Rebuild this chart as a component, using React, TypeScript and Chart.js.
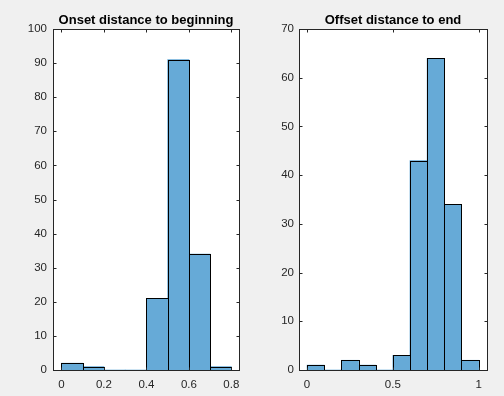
import React, { useEffect, useRef } from "react";
import { Chart, registerables } from "chart.js";

Chart.register(...registerables);

// ---- Data ----
const leftTitle = "Onset distance to beginning";
const leftBinCenters = [0.05, 0.15, 0.25, 0.35, 0.45, 0.55, 0.65, 0.75];
const leftCounts = [2, 1, 0, 0, 21, 91, 34, 1];
const leftXTicks = [0, 0.2, 0.4, 0.6, 0.8];
const leftYTicks = [0, 10, 20, 30, 40, 50, 60, 70, 80, 90, 100];

const rightTitle = "Offset distance to end";
const rightBinCenters = [0.05, 0.15, 0.25, 0.35, 0.45, 0.55, 0.65, 0.75, 0.85, 0.95];
const rightCounts = [1, 0, 2, 1, 0, 3, 43, 64, 34, 2];
const rightXTicks = [0, 0.5, 1];
const rightYTicks = [0, 10, 20, 30, 40, 50, 60, 70];

const FONT = '"Liberation Sans", Arial, Helvetica, sans-serif';
const BAR_FILL = "rgb(102,170,215)";
const AXIS_COLOR = "#262626";

type PanelProps = {
  title: string;
  centers: number[];
  counts: number[];
  xTicks: number[];
  yTicks: number[];
  xMin: number;
  xMax: number;
  yMax: number;
  left: number;
  padLeft: number;
  padRight: number;
  yAxisWidth: number;
  yLabelPad: number;
};

function Panel(p: PanelProps) {
  const ref = useRef<HTMLCanvasElement | null>(null);
  useEffect(() => {
    const canvas = ref.current;
    if (!canvas) return;
    const matlabPlugin = {
      id: "matlabAxes",
      beforeDraw(chart: any) {
        const { ctx, chartArea } = chart;
        ctx.save();
        ctx.fillStyle = "#ffffff";
        ctx.fillRect(chartArea.left, chartArea.top, chartArea.right - chartArea.left, chartArea.bottom - chartArea.top);
        ctx.restore();
      },
      afterDatasetsDraw(chart: any) {
        const { ctx } = chart;
        const meta = chart.getDatasetMeta(0);
        ctx.save();
        ctx.strokeStyle = "#000000";
        ctx.lineWidth = 1;
        meta.data.forEach((el: any, i: number) => {
          if (!p.counts[i]) return;
          const { x, y, base, width } = el.getProps(["x", "y", "base", "width"], true);
          const l = Math.round(x - width / 2) + 0.5;
          const r = Math.round(x + width / 2) + 0.5;
          const t = Math.round(y) + 0.5;
          const b = Math.round(base) + 0.5;
          ctx.strokeRect(l, t, r - l, b - t);
        });
        ctx.restore();
      },
      afterDraw(chart: any) {
        const { ctx, chartArea } = chart;
        const xs = chart.scales.x;
        const ys = chart.scales.y;
        const L = Math.round(chartArea.left) + 0.5;
        const R = Math.round(chartArea.right) + 0.5;
        const T = Math.round(chartArea.top) + 0.5;
        const B = Math.round(chartArea.bottom) + 0.5;
        ctx.save();
        ctx.strokeStyle = AXIS_COLOR;
        ctx.lineWidth = 1;
        ctx.strokeRect(L, T, R - L, B - T);
        const tl = 3;
        ctx.beginPath();
        p.xTicks.forEach((v) => {
          const px = Math.round(xs.getPixelForValue(v)) + 0.5;
          ctx.moveTo(px, B);
          ctx.lineTo(px, B - tl);
          ctx.moveTo(px, T);
          ctx.lineTo(px, T + tl);
        });
        p.yTicks.forEach((v) => {
          const py = Math.round(ys.getPixelForValue(v)) + 0.5;
          ctx.moveTo(L, py);
          ctx.lineTo(L + tl, py);
          ctx.moveTo(R, py);
          ctx.lineTo(R - tl, py);
        });
        ctx.stroke();
        ctx.fillStyle = "#000000";
        ctx.font = "bold 13px " + FONT;
        ctx.textAlign = "center";
        ctx.textBaseline = "alphabetic";
        ctx.fillText(p.title, (chartArea.left + chartArea.right) / 2, chartArea.top - 5);
        ctx.restore();
      },
    };

    const chart = new Chart(canvas, {
      type: "bar",
      data: {
        datasets: [
          {
            data: p.centers.map((c, i) => ({ x: c, y: p.counts[i] })),
            backgroundColor: BAR_FILL,
            borderWidth: 0,
            barPercentage: 1,
            categoryPercentage: 1,
          },
        ],
      },
      options: {
        responsive: false,
        animation: false,
        layout: { padding: { left: p.padLeft, right: p.padRight, top: 29, bottom: 6 } },
        plugins: { legend: { display: false }, tooltip: { enabled: false }, title: { display: false } },
        scales: {
          x: {
            type: "linear",
            min: p.xMin,
            max: p.xMax,
            offset: false,
            grid: { display: false, drawTicks: false },
            border: { display: false },
            afterBuildTicks: (scale: any) => {
              scale.ticks = p.xTicks.map((v) => ({ value: v }));
            },
            afterFit: (scale: any) => {
              scale.height = 20;
            },
            ticks: {
              color: AXIS_COLOR,
              font: { family: FONT, size: 11.5 },
              padding: 8,
              maxRotation: 0,
              autoSkip: false,
              callback: (v: any) => String(v),
            },
          },
          y: {
            type: "linear",
            min: 0,
            max: p.yMax,
            grid: { display: false, drawTicks: false },
            border: { display: false },
            afterBuildTicks: (scale: any) => {
              scale.ticks = p.yTicks.map((v) => ({ value: v }));
            },
            afterFit: (scale: any) => {
              scale.width = p.yAxisWidth;
            },
            ticks: {
              color: AXIS_COLOR,
              font: { family: FONT, size: 11.5 },
              padding: p.yLabelPad,
              autoSkip: false,
              callback: (v: any) => String(v),
            },
          },
        },
      },
      plugins: [matlabPlugin],
    } as any);
    return () => chart.destroy();
  }, []);

  return (
    <canvas
      ref={ref}
      width={252}
      height={396}
      style={{ position: "absolute", left: p.left, top: 0, width: 252, height: 396 }}
    />
  );
}

export default function App() {
  return (
    <div
      style={{
        position: "fixed",
        left: 0,
        top: 0,
        width: 504,
        height: 396,
        background: "#f0f0f0",
        overflow: "hidden",
      }}
    >
      <Panel
        title={leftTitle}
        centers={leftBinCenters}
        counts={leftCounts}
        xTicks={leftXTicks}
        yTicks={leftYTicks}
        xMin={-0.04}
        xMax={0.836}
        yMax={100}
        left={0}
        padLeft={8}
        padRight={13}
        yAxisWidth={45}
        yLabelPad={6}
      />
      <Panel
        title={rightTitle}
        centers={rightBinCenters}
        counts={rightCounts}
        xTicks={rightXTicks}
        yTicks={rightYTicks}
        xMin={-0.047}
        xMax={1.049}
        yMax={70}
        left={252}
        padLeft={8}
        padRight={17}
        yAxisWidth={39}
        yLabelPad={5}
      />
    </div>
  );
}
